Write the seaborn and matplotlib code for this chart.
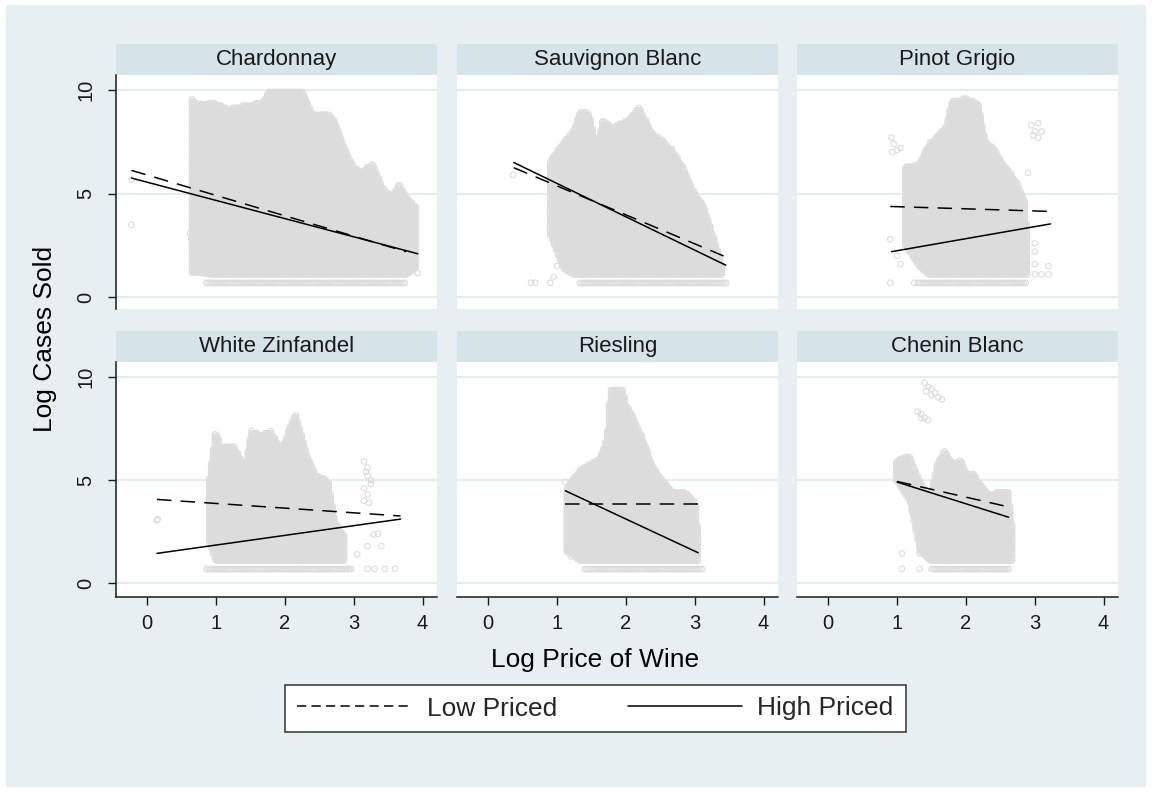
import numpy as np
import pandas as pd
import matplotlib
matplotlib.use("Agg")
import matplotlib.pyplot as plt
from matplotlib.lines import Line2D
from matplotlib.patches import Rectangle
import seaborn as sns

sns.set_theme(style="white")
plt.rcParams["font.family"] = ["Liberation Sans", "DejaVu Sans"]

VARIETIES = ["Chardonnay", "Sauvignon Blanc", "Pinot Grigio",
             "White Zinfandel", "Riesling", "Chenin Blanc"]

# Outline of each scatter cloud: log price positions, upper and lower edge of log cases
CHARD_X = [0.65, 0.75, 0.95, 1.19, 1.43, 1.67, 1.77, 2.0, 2.26, 2.4, 2.64, 2.74,
           2.88, 3.03, 3.13, 3.27, 3.42, 3.56, 3.66, 3.76, 3.9]
CHARD_TOP = [9.6, 9.3, 9.4, 9.1, 9.3, 9.4, 10.0, 10.0, 10.0, 8.9, 8.9, 8.4,
             7.1, 6.2, 6.1, 6.5, 5.3, 4.9, 5.5, 4.9, 4.4]
CHARD_LOW = [1.2, 1.2, 1.1, 1.1, 1.1, 1.1, 1.1, 1.1, 1.1, 1.1, 1.1, 1.1,
             1.1, 1.1, 1.1, 1.1, 1.1, 1.1, 1.1, 1.1, 1.4]

SAUV_X = [0.9, 1.09, 1.24, 1.33, 1.47, 1.57, 1.66, 1.8, 2.0, 2.19, 2.39, 2.54,
          2.68, 2.83, 2.97, 3.12, 3.26, 3.4]
SAUV_TOP = [6.6, 7.5, 8.1, 9.0, 8.9, 7.3, 8.6, 8.2, 8.5, 9.2, 7.9, 7.6,
            7.1, 6.3, 5.2, 4.5, 3.1, 1.5]
SAUV_LOW = [3.0, 1.4, 1.1, 1.1, 1.1, 1.1, 1.1, 1.1, 1.1, 1.1, 1.1, 1.1,
            1.1, 1.1, 1.1, 1.1, 1.1, 1.1]

PINOT_X = [1.12, 1.32, 1.46, 1.61, 1.7, 1.8, 1.99, 2.18, 2.28, 2.43, 2.57,
           2.72, 2.86, 2.9]
PINOT_TOP = [6.3, 6.45, 7.4, 7.9, 8.2, 9.5, 9.6, 9.4, 7.6, 7.1, 6.3, 5.7, 4.7, 2.8]
PINOT_LOW = [2.5, 1.5, 1.1, 1.1, 1.1, 1.1, 1.1, 1.1, 1.1, 1.1, 1.1, 1.1, 1.1, 1.1]

ZIN_X = [0.9, 0.99, 1.08, 1.27, 1.42, 1.51, 1.66, 1.8, 1.95, 2.05, 2.15, 2.3,
         2.44, 2.63, 2.73, 2.88]
ZIN_TOP = [5.16, 7.4, 6.6, 6.6, 5.7, 7.4, 7.2, 7.4, 6.5, 7.4, 8.3, 6.5,
           5.3, 5.0, 3.0, 2.25]
ZIN_LOW = [2.0, 1.1, 1.1, 1.1, 1.1, 1.1, 1.1, 1.1, 1.1, 1.1, 1.1, 1.1,
           1.1, 1.1, 1.1, 1.1]

RIES_X = [1.14, 1.33, 1.48, 1.62, 1.72, 1.77, 1.96, 2.0, 2.1, 2.24, 2.39, 2.53,
          2.68, 2.87, 3.01, 3.06]
RIES_TOP = [4.67, 5.5, 5.8, 6.1, 7.0, 9.35, 9.4, 8.7, 8.1, 7.1, 5.7, 5.0,
            4.4, 4.4, 4.0, 2.3]
RIES_LOW = [1.6, 1.1, 1.1, 1.1, 1.1, 1.1, 1.1, 1.1, 1.1, 1.1, 1.1, 1.1,
            1.1, 1.1, 1.1, 1.1]

CHENIN_X = [0.99, 1.18, 1.33, 1.48, 1.58, 1.68, 1.82, 1.92, 2.02, 2.12, 2.21,
            2.36, 2.5, 2.62, 2.68]
CHENIN_TOP = [5.96, 6.2, 5.0, 4.2, 5.8, 6.45, 5.8, 6.0, 5.3, 5.3, 4.8,
              4.3, 4.5, 4.5, 2.6]
CHENIN_LOW = [5.0, 4.0, 1.6, 1.1, 1.1, 1.1, 1.1, 1.1, 1.1, 1.1, 1.1,
              1.1, 1.1, 1.1, 1.1]

# Wines that sold only two cases (log 2) form a row along the bottom
FLOOR_CASES = 0.69
FLOOR_START = [0.86, 1.33, 1.3, 0.86, 1.4, 1.5]
FLOOR_END = [3.76, 3.47, 2.87, 2.97, 3.13, 2.62]

# Isolated observations outside the main clouds
CHARD_PTS_X = [-0.23, -0.23, 0.62, 0.64, 3.93, 3.9]
CHARD_PTS_Y = [5.67, 3.49, 3.09, 2.8, 1.17, 1.6]
SAUV_PTS_X = [0.36, 0.62, 0.68, 0.9, 0.95, 1.0]
SAUV_PTS_Y = [5.9, 0.7, 0.7, 0.7, 1.0, 1.5]
PINOT_PTS_X = [0.92, 0.95, 1.0, 1.05, 0.93, 0.9, 0.9, 1.0, 1.05, 2.95, 3.0, 3.05,
               3.1, 2.98, 3.05, 2.9, 3.0, 3.0, 3.0, 3.0, 3.1, 3.2, 3.2, 1.25]
PINOT_PTS_Y = [7.7, 7.4, 7.1, 7.2, 7.0, 0.7, 2.8, 2.0, 1.6, 8.3, 8.0, 8.4,
               8.0, 7.8, 7.7, 6.0, 1.1, 1.6, 2.2, 2.6, 1.1, 1.1, 1.5, 0.7]
ZIN_PTS_X = [0.14, 0.15, 3.15, 3.2, 3.2, 3.25, 3.15, 3.2, 3.22, 3.15, 3.25, 3.18,
             3.05, 3.2, 3.29, 3.35, 3.4, 3.2, 3.3, 3.45, 3.6]
ZIN_PTS_Y = [3.06, 3.1, 5.9, 5.6, 5.2, 4.8, 4.6, 4.3, 3.9, 4.0, 5.0, 5.4,
             1.4, 1.8, 2.36, 2.4, 1.8, 0.7, 0.7, 0.7, 0.7]
RIES_PTS_X = [1.12, 1.15, 1.2]
RIES_PTS_Y = [4.9, 1.5, 1.3]
CHENIN_PTS_X = [1.4, 1.45, 1.5, 1.55, 1.6, 1.65, 1.42, 1.5, 1.3, 1.35, 1.4, 1.45,
                1.35, 1.07, 1.07, 1.33, 1.33, 1.38]
CHENIN_PTS_Y = [9.7, 9.5, 9.4, 9.2, 9.0, 8.9, 9.3, 9.1, 8.3, 8.2, 8.0, 7.9,
                8.0, 1.45, 0.7, 0.7, 1.45, 1.7]

# Fitted lines for low- and high-priced wines: start/end price and predicted log cases
LOW_X0 = [-0.23, 0.37, 0.9, 0.14, 1.12, 1.0]
LOW_X1 = [3.76, 3.45, 3.23, 3.68, 3.08, 2.62]
LOW_Y0 = [6.12, 6.25, 4.38, 4.06, 3.82, 4.93]
LOW_Y1 = [2.2, 1.95, 4.14, 3.26, 3.82, 3.7]
HIGH_X0 = [-0.23, 0.37, 0.92, 0.14, 1.12, 1.0]
HIGH_X1 = [3.93, 3.45, 3.23, 3.68, 3.05, 2.62]
HIGH_Y0 = [5.75, 6.5, 2.2, 1.45, 4.48, 4.9]
HIGH_Y1 = [2.1, 1.55, 3.54, 3.11, 1.48, 3.2]

X_TICKS = [0, 1, 2, 3, 4]
Y_TICKS = [0, 5, 10]

CLOUDS = [(CHARD_X, CHARD_TOP, CHARD_LOW), (SAUV_X, SAUV_TOP, SAUV_LOW),
          (PINOT_X, PINOT_TOP, PINOT_LOW), (ZIN_X, ZIN_TOP, ZIN_LOW),
          (RIES_X, RIES_TOP, RIES_LOW), (CHENIN_X, CHENIN_TOP, CHENIN_LOW)]
EXTRAS = [(CHARD_PTS_X, CHARD_PTS_Y), (SAUV_PTS_X, SAUV_PTS_Y),
          (PINOT_PTS_X, PINOT_PTS_Y), (ZIN_PTS_X, ZIN_PTS_Y),
          (RIES_PTS_X, RIES_PTS_Y), (CHENIN_PTS_X, CHENIN_PTS_Y)]

BG = "#e8eff2"
STRIP = "#d6e3e9"
GRID = "#e4edf0"
POINT = "#dcdcdc"
INK = "#1a1a1a"


def cloud_frame(i):
    xs, top, low = CLOUDS[i]
    px, py = [], []
    for x in np.arange(xs[0], xs[-1] + 1e-9, 0.028):
        hi = np.interp(x, xs, top)
        lo = np.interp(x, xs, low)
        for y in np.arange(lo, hi + 1e-9, 0.11):
            px.append(x)
            py.append(y)
    fx_ = np.arange(FLOOR_START[i], FLOOR_END[i] + 1e-9, 0.028)
    px.extend(fx_)
    py.extend([FLOOR_CASES] * len(fx_))
    px.extend(EXTRAS[i][0])
    py.extend(EXTRAS[i][1])
    return pd.DataFrame({"price": px, "cases": py})


def fit_frame(i):
    return pd.DataFrame({
        "price": [LOW_X0[i], LOW_X1[i], HIGH_X0[i], HIGH_X1[i]],
        "cases": [LOW_Y0[i], LOW_Y1[i], HIGH_Y0[i], HIGH_Y1[i]],
        "group": ["Low Priced", "Low Priced", "High Priced", "High Priced"],
    })


W, H = 1152, 801
fig = plt.figure(figsize=(W / 100, H / 100), dpi=100, facecolor="white")


def fx(p):
    return p / W


def fy(p):
    return 1 - p / H


fig.patches.append(Rectangle((fx(6), fy(787)), fx(1146) - fx(6), fy(5) - fy(787),
                             transform=fig.transFigure, facecolor=BG,
                             edgecolor="none", zorder=-10))

COL_LEFT = [116, 457, 797]
PANEL_W = 321
ROWS = [dict(strip=(44, 75), plot=(75, 309), ylim=(-0.565, 10.72)),
        dict(strip=(331, 362), plot=(362, 597), ylim=(-0.66, 10.71))]
DASH = (9.5, 6)

for i, name in enumerate(VARIETIES):
    r, c = divmod(i, 3)
    row = ROWS[r]
    left = COL_LEFT[c]
    t, b = row["plot"]
    ax = fig.add_axes([fx(left), fy(b), PANEL_W / W, (b - t) / H])
    ax.set_zorder(1)
    ax.set_facecolor("white")
    ax.set_axisbelow(True)

    sns.scatterplot(data=cloud_frame(i), x="price", y="cases", ax=ax,
                    marker="o", s=16, facecolor="none", edgecolor=POINT,
                    linewidth=0.8, legend=False, zorder=2)
    sns.lineplot(data=fit_frame(i), x="price", y="cases", style="group",
                 style_order=["Low Priced", "High Priced"],
                 dashes={"Low Priced": DASH, "High Priced": ""},
                 color="black", linewidth=1.1, ax=ax, legend=False,
                 estimator=None, sort=False, zorder=3)

    ax.set_xlim(-0.455, 4.21)
    ax.set_ylim(*row["ylim"])
    ax.set_xticks(X_TICKS)
    ax.set_yticks(Y_TICKS)
    ax.yaxis.grid(True, color=GRID, linewidth=1.6)
    ax.xaxis.grid(False)
    ax.set_xlabel("")
    ax.set_ylabel("")
    for side in ["top", "right", "left", "bottom"]:
        ax.spines[side].set_visible(False)

    if c == 0:
        ax.spines["left"].set_visible(True)
        ax.spines["left"].set_color(INK)
        ax.spines["left"].set_linewidth(1.1)
        ax.tick_params(axis="y", left=True, labelleft=True, length=6,
                       width=1.0, color=INK, pad=9, labelsize=14.5,
                       labelcolor=INK)
        for lab in ax.get_yticklabels():
            lab.set_rotation(90)
            lab.set_va("center")
    else:
        ax.tick_params(axis="y", left=False, labelleft=False)

    if r == 1:
        ax.spines["bottom"].set_visible(True)
        ax.spines["bottom"].set_color(INK)
        ax.spines["bottom"].set_linewidth(1.1)
        ax.tick_params(axis="x", bottom=True, labelbottom=True, length=6,
                       width=1.0, color=INK, pad=6, labelsize=14.5,
                       labelcolor=INK)
    else:
        ax.tick_params(axis="x", bottom=False, labelbottom=False)

    st, sb = row["strip"]
    fig.patches.append(Rectangle((fx(left), fy(sb)), PANEL_W / W, (sb - st) / H,
                                 transform=fig.transFigure, facecolor=STRIP,
                                 edgecolor="none", zorder=-5))
    fig.text(fx(left + PANEL_W / 2), fy((st + sb) / 2), name, ha="center",
             va="center", fontsize=16, color=INK)

fig.text(fx(45), fy(339), "Log Cases Sold", rotation=90, ha="center",
         va="center", fontsize=19, color="black")
fig.text(fx(595), fy(660), "Log Price of Wine", ha="center", va="center",
         fontsize=19, color="black")

handles = [Line2D([], [], color="black", linewidth=1.1, dashes=(6, 3.5)),
           Line2D([], [], color="black", linewidth=1.1)]
leg = fig.legend(handles, ["Low Priced", "High Priced"], loc="center",
                 bbox_to_anchor=(fx(595.5), fy(708.5)), ncol=2, fontsize=19,
                 frameon=True, fancybox=False, handlelength=4.3,
                 handletextpad=0.6, columnspacing=2.7, borderpad=0.45,
                 borderaxespad=0)
leg.get_frame().set_edgecolor("#333333")
leg.get_frame().set_linewidth(1.1)
leg.get_frame().set_facecolor("white")
leg.get_frame().set_alpha(1)

fig.savefig("out.png", dpi=100, facecolor=fig.get_facecolor())
